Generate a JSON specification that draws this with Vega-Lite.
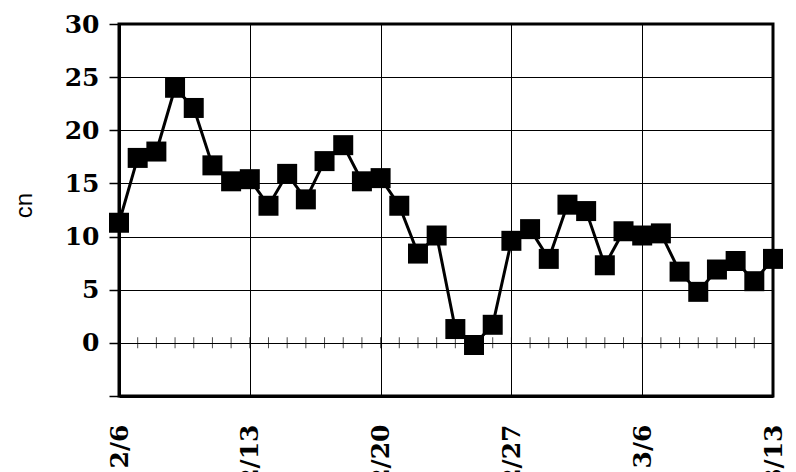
{
  "$schema": "https://vega.github.io/schema/vega-lite/v6.json",
  "width": 654,
  "height": 372,
  "autosize": {"type": "none"},
  "padding": {"left": 119, "top": 24, "right": 23, "bottom": 76},
  "background": "white",
  "config": {
    "view": {"stroke": "black", "strokeWidth": 3},
    "axis": {"labelFont": "DejaVu Serif", "labelFontWeight": "bold", "labelFontSize": 25, "labelColor": "black", "domainColor": "black", "domainWidth": 3, "gridColor": "black", "gridWidth": 1, "gridOpacity": 1, "tickColor": "black"}
  },
  "data": {
    "values": [
      {"date": "2023-02-06", "cn": 11.3},
      {"date": "2023-02-07", "cn": 17.4},
      {"date": "2023-02-08", "cn": 18.0},
      {"date": "2023-02-09", "cn": 24.0},
      {"date": "2023-02-10", "cn": 22.1},
      {"date": "2023-02-11", "cn": 16.7},
      {"date": "2023-02-12", "cn": 15.2},
      {"date": "2023-02-13", "cn": 15.4},
      {"date": "2023-02-14", "cn": 12.9},
      {"date": "2023-02-15", "cn": 15.9},
      {"date": "2023-02-16", "cn": 13.5},
      {"date": "2023-02-17", "cn": 17.1},
      {"date": "2023-02-18", "cn": 18.6},
      {"date": "2023-02-19", "cn": 15.2},
      {"date": "2023-02-20", "cn": 15.5},
      {"date": "2023-02-21", "cn": 12.9},
      {"date": "2023-02-22", "cn": 8.4},
      {"date": "2023-02-23", "cn": 10.1},
      {"date": "2023-02-24", "cn": 1.3},
      {"date": "2023-02-25", "cn": -0.2},
      {"date": "2023-02-26", "cn": 1.7},
      {"date": "2023-02-27", "cn": 9.6},
      {"date": "2023-02-28", "cn": 10.7},
      {"date": "2023-03-01", "cn": 7.9},
      {"date": "2023-03-02", "cn": 13.0},
      {"date": "2023-03-03", "cn": 12.4},
      {"date": "2023-03-04", "cn": 7.3},
      {"date": "2023-03-05", "cn": 10.5},
      {"date": "2023-03-06", "cn": 10.1},
      {"date": "2023-03-07", "cn": 10.3},
      {"date": "2023-03-08", "cn": 6.7},
      {"date": "2023-03-09", "cn": 4.8},
      {"date": "2023-03-10", "cn": 6.9},
      {"date": "2023-03-11", "cn": 7.7},
      {"date": "2023-03-12", "cn": 5.8},
      {"date": "2023-03-13", "cn": 7.9}
    ]
  },
  "encoding": {
    "x": {
      "field": "date",
      "type": "temporal",
      "scale": {"type": "utc", "domain": [{"year": 2023, "month": 2, "date": 6, "utc": true}, {"year": 2023, "month": 3, "date": 13, "utc": true}], "nice": false},
      "axis": {
        "title": null,
        "values": [
          {"year": 2023, "month": 2, "date": 6, "utc": true},
          {"year": 2023, "month": 2, "date": 13, "utc": true},
          {"year": 2023, "month": 2, "date": 20, "utc": true},
          {"year": 2023, "month": 2, "date": 27, "utc": true},
          {"year": 2023, "month": 3, "date": 6, "utc": true},
          {"year": 2023, "month": 3, "date": 13, "utc": true}
        ],
        "labelExpr": "utcFormat(datum.value, '%-m/%-d')",
        "labelAngle": -90,
        "labelAlign": "right",
        "labelBaseline": "middle",
        "ticks": false,
        "tickSize": 0,
        "labelPadding": 28,
        "labelOverlap": false,
        "labelFlush": false,
        "grid": true
      }
    }
  },
  "layer": [
    {
      "mark": {"type": "tick", "orient": "vertical", "size": 11, "thickness": 1, "color": "black"},
      "encoding": {
        "y": {"datum": 0, "type": "quantitative"}
      }
    },
    {
      "mark": {"type": "line", "color": "black", "strokeWidth": 3},
      "encoding": {
        "y": {
          "field": "cn",
          "type": "quantitative",
          "scale": {"domain": [-5, 30], "nice": false, "zero": false},
          "axis": {
            "title": "cn",
            "titleFont": "Liberation Sans",
            "titleFontSize": 24,
            "titleFontWeight": "normal",
            "titleColor": "black",
            "titleAngle": -90,
            "titleX": -95,
            "titleY": 181,
            "titleAlign": "center",
            "titleBaseline": "middle",
            "values": [-5, 0, 5, 10, 15, 20, 25, 30],
            "labelExpr": "datum.value < 0 ? '' : datum.label",
            "tickSize": 10,
            "tickWidth": 1.5,
            "labelPadding": 10,
            "grid": true
          }
        }
      }
    },
    {
      "mark": {"type": "point", "shape": "square", "filled": true, "color": "black", "opacity": 1, "size": 400},
      "encoding": {
        "y": {"field": "cn", "type": "quantitative"}
      }
    }
  ]
}
